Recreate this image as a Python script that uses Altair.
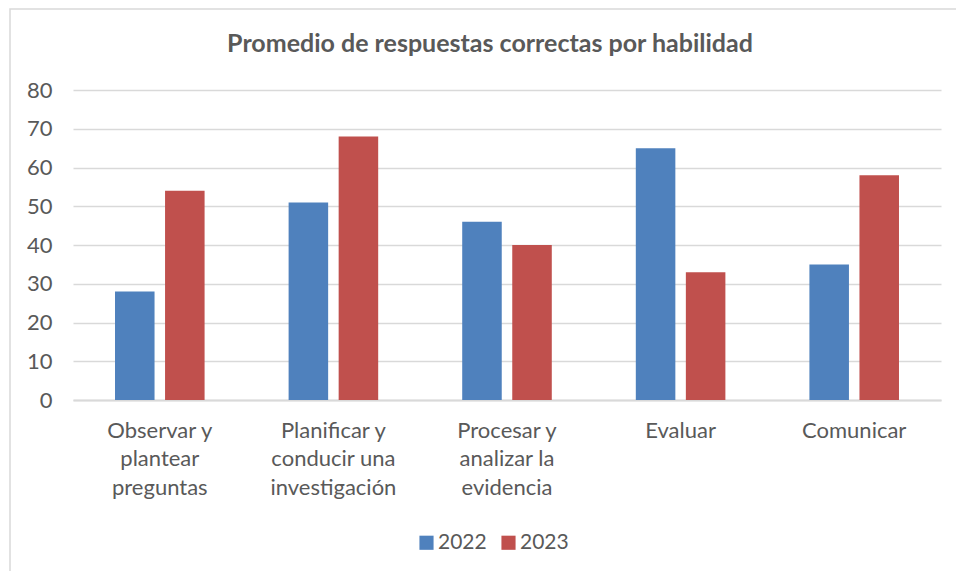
import altair as alt
import pandas as pd

categories = [
    "Observar y\nplantear\npreguntas",
    "Planificar y\nconducir una\ninvestigación",
    "Procesar y\nanalizar la\nevidencia",
    "Evaluar",
    "Comunicar",
]
years = ["2022", "2023"]
values_2022 = [28, 51, 46, 65, 35]
values_2023 = [54, 68, 40, 33, 58]
colors = ["#4F81BD", "#C0504D"]

rows = []
for c, a, b in zip(categories, values_2022, values_2023):
    rows.append({"cat": c, "year": years[0], "value": a})
    rows.append({"cat": c, "year": years[1], "value": b})
df = pd.DataFrame(rows)

FONT = "Lato"
TXT = "#595959"
GRID = "#D9D9D9"

bars = alt.Chart(df).mark_bar().encode(
    x=alt.X(
        "cat:N",
        sort=categories,
        title=None,
        scale=alt.Scale(paddingInner=0.484, paddingOuter=0.242),
        axis=alt.Axis(
            labelAngle=0,
            labelExpr="split(datum.label, '\\n')",
            labelFont=FONT,
            labelFontSize=22,
            labelColor=TXT,
            labelLineHeight=28.6,
            labelPadding=20,
            labelBaseline="top",
            domainColor=GRID,
            domainWidth=2,
            ticks=False,
            grid=False,
        ),
    ),
    xOffset=alt.XOffset("year:N", sort=years, scale=alt.Scale(paddingInner=0.21, paddingOuter=0)),
    y=alt.Y(
        "value:Q",
        title=None,
        scale=alt.Scale(domain=[0, 80], nice=False),
        axis=alt.Axis(
            values=[0, 10, 20, 30, 40, 50, 60, 70, 80],
            labelFont=FONT,
            labelFontSize=22,
            labelColor=TXT,
            labelPadding=21,
            domain=False,
            ticks=False,
            gridColor=GRID,
            gridWidth=1.5,
        ),
    ),
    color=alt.Color(
        "year:N",
        sort=years,
        scale=alt.Scale(domain=years, range=colors),
        legend=alt.Legend(
            title=None,
            orient="none",
            direction="horizontal",
            legendX=343,
            legendY=442,
            symbolType="square",
            symbolSize=200,
            symbolStrokeWidth=0,
            labelFont=FONT,
            labelFontSize=21,
            labelColor=TXT,
            columnPadding=11,
            labelOffset=1,
        ),
    ),
)

border = alt.Chart(alt.Data(values=[{"b": 1}])).mark_rect(
    fill=None, stroke=GRID, strokeWidth=1.5
).encode(
    x=alt.value(-63),
    x2=alt.value(900),
    y=alt.value(-81),
    y2=alt.value(600),
)

chart = alt.layer(border, bars).properties(
    width=868,
    height=310,
    padding={"left": 65, "top": 82, "right": 15, "bottom": 171},
    autosize=alt.AutoSizeParams(type="none"),
    title=alt.TitleParams(
        "Promedio de respuestas correctas por habilidad",
        font=FONT,
        fontSize=25,
        fontWeight="bold",
        color=TXT,
        anchor="middle",
        dx=-17,
        offset=-49,
    ),
).configure_view(stroke=None)

chart.save("out.html", embed_options={"renderer": "svg", "actions": False})
